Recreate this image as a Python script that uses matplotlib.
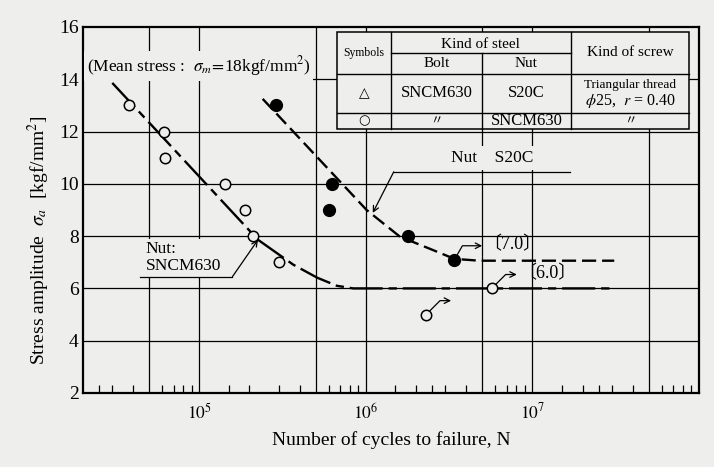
import matplotlib.pyplot as plt
from matplotlib.patches import Rectangle
from matplotlib.ticker import FixedLocator, NullFormatter

BG = '#eeeeec'

# open circles: bolt SNCM630 / nut SNCM630
sncm_N = [3.8e4, 6.1e4, 6.2e4, 1.43e5, 1.88e5, 2.1e5, 3.0e5, 2.3e6, 5.7e6]
sncm_S = [13.0, 12.0, 11.0, 10.0, 9.0, 8.0, 7.0, 5.0, 6.0]
# filled circles: bolt SNCM630 / nut S20C
s20c_N = [2.9e5, 6.3e5, 6.0e5, 1.8e6, 3.4e6]
s20c_S = [13.0, 10.0, 9.0, 8.0, 7.1]

# S-N curves
sncm_curve_N = [3.0e4, 2.25e5, 3.66e5, 5.1e5, 6.7e5, 8.4e5, 3.0e7]
sncm_curve_S = [13.86, 7.86, 6.91, 6.41, 6.10, 6.0, 6.0]
s20c_curve_N = [2.4e5, 1.01e6, 1.6e6, 2.5e6, 3.4e6, 4.8e6, 3.1e7]
s20c_curve_S = [13.25, 9.0, 7.98, 7.48, 7.13, 7.06, 7.06]

x_grid = [5e4, 1e5, 5e5, 1e6, 5e6, 1e7, 5e7]
x_minor = [2.5e4, 3e4, 4e4, 6e4, 7e4, 8e4, 9e4,
           1.5e5, 2e5, 3e5, 4e5, 6e5, 7e5, 8e5, 9e5,
           1.5e6, 2e6, 2.5e6, 3e6, 4e6, 6e6, 7e6, 8e6, 9e6,
           1.5e7, 2e7, 2.5e7, 3e7, 4e7, 6e7, 7e7, 8e7, 9e7]
y_ticks = [2, 4, 6, 8, 10, 12, 14, 16]

plt.rcParams['font.family'] = ['Liberation Serif', 'DejaVu Sans', 'Noto Sans CJK JP']
plt.rcParams['mathtext.fontset'] = 'stix'

fig = plt.figure(figsize=(7.14, 4.67), dpi=100, facecolor=BG)
ax = fig.add_axes([0.1162, 0.1585, 0.8627, 0.7837], facecolor=BG)
ax.set_xscale('log')
ax.set_xlim(2e4, 1e8)
ax.set_ylim(2, 16)

# grid
for x in x_grid:
    ax.axvline(x, color='black', lw=0.9, zorder=1)
for y in y_ticks[1:-1]:
    ax.axhline(y, color='black', lw=0.9, zorder=1)

ax.set_xticks([1e5, 1e6, 1e7], labels=['$10^5$', '$10^6$', '$10^7$'])
ax.xaxis.set_minor_locator(FixedLocator(x_minor))
ax.xaxis.set_minor_formatter(NullFormatter())
ax.tick_params(axis='x', which='major', length=0, pad=7, labelsize=12.5)
ax.tick_params(axis='x', which='minor', direction='in', length=5.5, width=0.9)
ax.set_yticks(y_ticks)
ax.tick_params(axis='y', which='major', length=0, pad=3, labelsize=14)
for s in ax.spines.values():
    s.set_linewidth(1.6)

ax.set_xlabel('Number of cycles to failure, N', fontsize=14, labelpad=6)
ax.set_ylabel('Stress amplitude  $\\sigma_a$  [kgf/mm$^2$]', fontsize=14)
ax.yaxis.set_label_coords(-0.05, 0.418)

# curves
ax.plot(sncm_curve_N, sncm_curve_S, color='black', lw=1.7,
        dashes=(14, 2.5, 3.5, 2.5), zorder=4)
ax.plot(s20c_curve_N, s20c_curve_S, color='black', lw=1.7,
        dashes=(6, 2.5), zorder=4)

ax.plot(sncm_N, sncm_S, 'o', ms=7.5, mfc=BG, mec='black', mew=1.1, zorder=5)
ax.plot(s20c_N, s20c_S, 'o', ms=8.5, mfc='black', mec='black', zorder=5)

# run-out arrows
def runout(x, y, dx, dy, ang, label=None):
    ax.annotate('', xy=(x, y), xytext=(dx, dy), textcoords='offset points',
                arrowprops=dict(arrowstyle='<-', lw=0.9, shrinkA=0, shrinkB=4,
                                connectionstyle=f'angle,angleA=0,angleB={ang},rad=0'),
                zorder=6)
    if label:
        ax.annotate(label, xy=(x, y), xytext=(dx + 1, dy + 1), textcoords='offset points',
                    ha='left', va='center', fontsize=13,
                    family=['Liberation Serif', 'Noto Sans CJK JP'])

runout(3.4e6, 7.1, 20, 10, 60, '〔7.0〕')
runout(5.7e6, 6.0, 18, 10, 45, '〔6.0〕')
runout(2.3e6, 5.0, 18, 10, 45)

# curve labels
ax.text(5.75e6, 11.0, 'Nut    S20C', ha='center', va='center', fontsize=12.5,
        bbox=dict(fc=BG, ec='none', pad=3), zorder=3)
ax.plot([1.47e6, 1.69e7], [10.46, 10.46], color='black', lw=0.9, zorder=3)
ax.annotate('', xy=(1.10e6, 8.89), xytext=(1.47e6, 10.46),
            arrowprops=dict(arrowstyle='->', lw=0.9, shrinkA=0, shrinkB=0), zorder=6)

ax.text(4.75e4, 6.55, 'Nut:\nSNCM630', ha='left', va='bottom', fontsize=12.5,
        linespacing=1.05, bbox=dict(fc=BG, ec='none', pad=2), zorder=3)
ax.plot([4.4e4, 1.58e5], [6.45, 6.45], color='black', lw=0.9, zorder=3)
ax.annotate('', xy=(2.25e5, 7.86), xytext=(1.58e5, 6.45),
            arrowprops=dict(arrowstyle='->', lw=0.9, shrinkA=0, shrinkB=0), zorder=6)

ax.text(0.006, 0.893, '(Mean stress :  $\\sigma_m\\!=\\!$18kgf/mm$^2$)', transform=ax.transAxes,
        ha='left', va='center', fontsize=12.5,
        bbox=dict(fc=BG, ec='none', pad=2), zorder=3)

# legend table
tx0, tx1, ty0, ty1 = 0.412, 0.984, 0.721, 0.986
cx1, cx2, cx3 = 0.500, 0.648, 0.792
ry1, ry2, ry3 = 0.929, 0.872, 0.765
ax.add_patch(Rectangle((tx0, ty0), tx1 - tx0, ty1 - ty0, transform=ax.transAxes,
                       fc=BG, ec='black', lw=1.1, zorder=7))
seg = [((cx1, cx3), (ry1, ry1)), ((tx0, tx1), (ry2, ry2)), ((tx0, tx1), (ry3, ry3)),
       ((cx1, cx1), (ty0, ty1)), ((cx2, cx2), (ty0, ry1)), ((cx3, cx3), (ty0, ty1))]
for xs, ys in seg:
    ax.plot(xs, ys, transform=ax.transAxes, color='black', lw=1.0, zorder=8)

def cell(x, y, s, size=10.5, **kw):
    ax.text(x, y, s, transform=ax.transAxes, ha='center', va='center',
            fontsize=size, zorder=9, **kw)

cell((tx0 + cx1) / 2, (ry2 + ty1) / 2, 'Symbols', 8.5)
cell((cx1 + cx3) / 2, (ry1 + ty1) / 2 - 0.004, 'Kind of steel', 11)
cell((cx1 + cx2) / 2, (ry2 + ry1) / 2, 'Bolt', 11)
cell((cx2 + cx3) / 2, (ry2 + ry1) / 2, 'Nut', 11)
cell((cx3 + tx1) / 2, (ry2 + ty1) / 2, 'Kind of screw', 11)
cell((tx0 + cx1) / 2, (ry3 + ry2) / 2, '△', 10, family=['DejaVu Sans'])
cell((cx1 + cx2) / 2, (ry3 + ry2) / 2, 'SNCM630', 12)
cell((cx2 + cx3) / 2, (ry3 + ry2) / 2, 'S20C', 12)
cell((cx3 + tx1) / 2, (ry3 + ry2) / 2 + 0.022, 'Triangular thread', 9.5)
cell((cx3 + tx1) / 2, (ry3 + ry2) / 2 - 0.022, '$\\phi$25,  $r$ = 0.40', 11.5)
cell((tx0 + cx1) / 2, (ty0 + ry3) / 2, '○', 9.5, family=['DejaVu Sans'])
cell((cx1 + cx2) / 2, (ty0 + ry3) / 2, '〃', 9, family=['Noto Sans CJK JP'])
cell((cx2 + cx3) / 2, (ty0 + ry3) / 2, 'SNCM630', 12)
cell((cx3 + tx1) / 2, (ty0 + ry3) / 2, '〃', 9, family=['Noto Sans CJK JP'])

fig.savefig('out.png', dpi=100, facecolor=BG)
